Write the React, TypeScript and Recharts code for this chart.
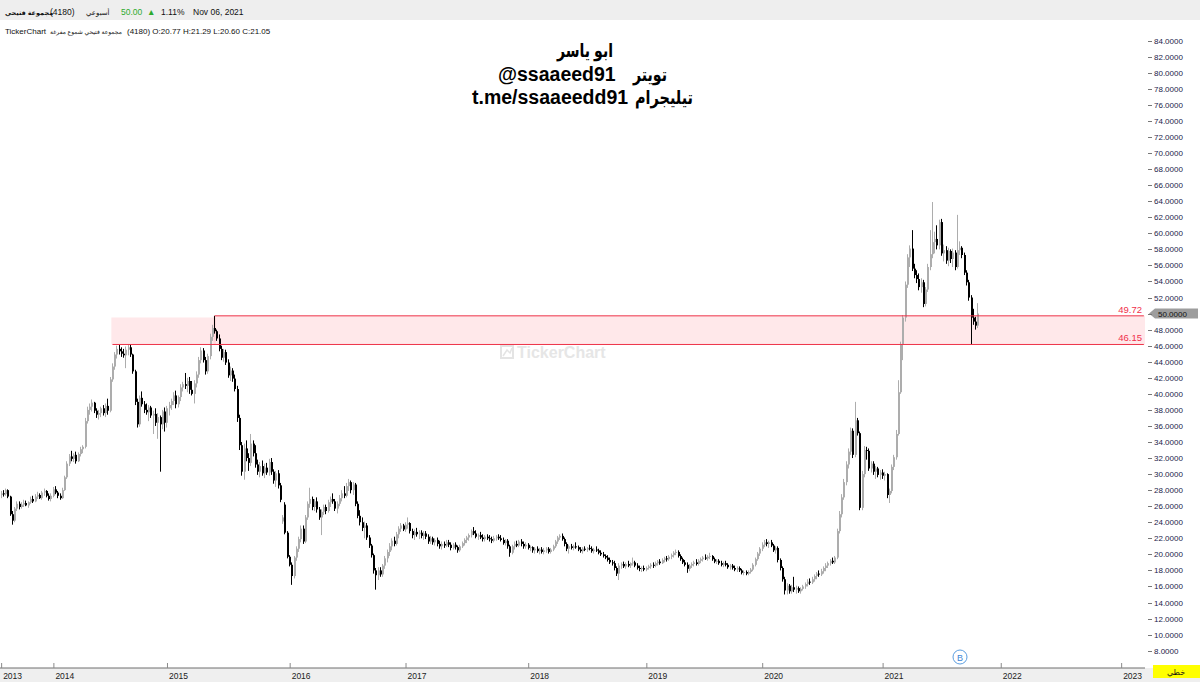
import React from 'react';
import { ComposedChart, Bar, XAxis, YAxis, ReferenceArea, ReferenceLine } from 'recharts';

type C = [number, number, number, number]; // open, high, low, close

const yearLabels = ['2013', '2014', '2015', '2016', '2017', '2018', '2019', '2020', '2021', '2022', '2023'];
const yearStartWeek = [0, 23, 73, 127, 178, 232, 284, 335, 388, 440, 493];
const totalWeeks = 504;
const priceTicks = [8, 10, 12, 14, 16, 18, 20, 22, 24, 26, 28, 30, 32, 34, 36, 38, 40, 42, 44, 46, 48, 50, 52, 54, 56, 58, 60, 62, 64, 66, 68, 70, 72, 74, 76, 78, 80, 82, 84];
const yMin = 5.84;
const yMax = 86.58;
const zoneLow = 46.15;
const zoneHigh = 49.72;
const zoneLeftTop = 49.5;
const zoneLeftStart = 49;
const zoneStart = 94;
const lastClose = 50.0;

const w2013: C[] = [
  [27.4, 27.9, 27.0, 27.6], [27.6, 28.0, 27.2, 27.5], [27.5, 28.2, 27.3, 28.0], [28.0, 28.1, 27.0, 27.2],
  [27.2, 27.3, 24.8, 25.0], [25.0, 25.4, 23.7, 24.2], [24.2, 25.9, 24.0, 25.7], [25.7, 26.6, 25.4, 26.3],
  [26.3, 26.6, 25.6, 25.9], [25.9, 26.5, 25.7, 26.2], [26.2, 26.8, 25.9, 26.4], [26.4, 26.7, 26.0, 26.1],
  [26.1, 26.6, 25.8, 26.5], [26.5, 27.2, 26.3, 26.9], [26.9, 27.3, 26.4, 26.6], [26.6, 27.5, 26.5, 27.2],
  [27.2, 27.8, 26.9, 27.4], [27.4, 27.6, 26.9, 27.0], [27.0, 27.9, 26.8, 27.7], [27.7, 28.2, 27.3, 27.9],
  [27.9, 28.0, 27.1, 27.3], [27.3, 27.6, 26.7, 26.9], [26.9, 27.6, 26.6, 27.3],
];

const w2014: C[] = [
  [27.3, 28.4, 27.1, 28.1], [28.1, 28.5, 27.5, 27.7], [27.7, 27.9, 27.0, 27.3], [27.3, 27.6, 26.8, 27.0],
  [27.0, 28.3, 26.9, 28.0], [28.0, 29.8, 27.9, 29.6], [29.6, 31.6, 29.4, 31.3], [31.3, 32.5, 31.0, 32.2],
  [32.2, 32.9, 31.6, 31.9], [31.9, 32.6, 31.5, 32.4], [32.4, 32.8, 31.3, 31.6], [31.6, 32.7, 31.5, 32.5],
  [32.5, 33.4, 32.2, 33.1], [33.1, 33.6, 32.6, 33.4], [33.4, 37.0, 33.2, 36.6], [36.6, 38.4, 36.3, 38.0],
  [38.0, 38.8, 37.4, 38.4], [38.4, 39.3, 37.8, 38.9], [38.9, 39.0, 37.6, 37.9], [37.9, 38.2, 37.0, 37.4],
  [37.4, 38.0, 36.8, 37.6], [37.6, 38.4, 37.1, 38.2], [38.2, 38.6, 37.3, 37.6], [37.6, 38.8, 37.1, 38.5],
  [38.5, 39.4, 37.4, 37.9], [37.9, 42.1, 37.7, 41.8], [41.8, 43.8, 41.5, 43.4], [43.4, 45.2, 43.0, 44.9],
  [44.9, 46.0, 44.4, 45.6], [45.6, 46.1, 44.9, 45.3], [45.3, 45.8, 44.6, 45.0], [45.0, 45.6, 44.5, 44.8],
  [44.8, 45.9, 43.2, 45.5], [45.5, 46.1, 44.8, 45.8], [45.8, 46.15, 44.6, 44.9], [44.9, 45.0, 42.5, 42.8],
  [42.8, 43.0, 38.6, 39.0], [39.0, 39.4, 35.8, 36.2], [36.2, 39.8, 35.9, 39.5], [39.5, 40.3, 38.4, 38.7],
  [38.7, 39.1, 37.6, 38.0], [38.0, 38.8, 37.4, 37.7], [37.7, 38.6, 36.6, 38.3], [38.3, 38.5, 37.0, 37.3],
  [37.3, 37.9, 35.0, 37.5], [37.5, 38.2, 36.0, 36.4], [36.4, 37.6, 34.4, 37.1], [37.1, 37.3, 30.3, 36.2],
  [36.2, 38.0, 35.6, 37.8], [37.8, 38.3, 35.3, 36.4], [36.4, 38.5, 35.8, 38.2],
];

const w2015: C[] = [
  [38.2, 39.0, 37.3, 38.6], [38.6, 39.4, 38.0, 39.1], [39.1, 40.2, 38.6, 39.8], [39.8, 40.4, 38.2, 38.7],
  [38.7, 39.8, 38.3, 39.6], [39.6, 41.2, 39.1, 40.8], [40.8, 41.5, 40.3, 41.2], [41.2, 42.6, 40.6, 41.0],
  [41.0, 42.0, 40.2, 41.6], [41.6, 42.1, 40.0, 40.5], [40.5, 41.6, 39.8, 40.0], [40.0, 41.7, 38.8, 41.3],
  [41.3, 42.8, 40.8, 42.4], [42.4, 44.6, 42.0, 44.2], [44.2, 45.8, 43.8, 45.4], [45.4, 45.7, 43.9, 44.2],
  [44.2, 44.6, 42.4, 42.8], [42.8, 45.0, 42.5, 44.7], [44.7, 47.5, 44.3, 47.1], [47.1, 48.6, 46.6, 48.2],
  [48.2, 49.72, 47.5, 47.8], [47.8, 48.0, 46.6, 46.9], [46.9, 47.4, 45.3, 45.6], [45.6, 46.0, 44.2, 44.5],
  [44.5, 45.6, 44.0, 45.2], [45.2, 45.5, 43.6, 43.9], [43.9, 44.3, 42.0, 42.3], [42.3, 43.4, 41.6, 42.9],
  [42.9, 43.2, 41.5, 41.9], [41.9, 42.4, 40.3, 40.6], [40.6, 41.0, 36.5, 37.0], [37.0, 37.4, 33.0, 33.6],
  [33.6, 34.0, 29.8, 30.3], [30.3, 33.8, 29.3, 33.2], [33.2, 34.2, 31.6, 32.0], [32.0, 32.6, 30.4, 31.4],
  [31.4, 35.0, 31.0, 33.8], [33.8, 34.2, 32.2, 32.6], [32.6, 33.6, 30.8, 31.2], [31.2, 31.8, 29.9, 30.3],
  [30.3, 31.5, 29.6, 31.0], [31.0, 31.7, 29.8, 30.1], [30.1, 31.3, 29.5, 30.8], [30.8, 31.4, 29.9, 30.2],
  [30.2, 31.9, 29.8, 31.5], [31.5, 32.0, 29.9, 30.3], [30.3, 30.6, 28.8, 29.2], [29.2, 30.4, 28.4, 30.1],
  [30.1, 30.5, 28.2, 28.6], [28.6, 28.9, 26.5, 26.8], [24.1, 24.9, 23.8, 24.6], [26.2, 26.5, 22.5, 22.7],
  [22.7, 22.9, 19.5, 19.7], [19.7, 19.9, 18.5, 18.7],
];

const w2016: C[] = [
  [18.7, 19.0, 16.2, 17.3], [17.3, 19.8, 17.0, 19.6], [19.6, 21.0, 19.2, 20.7], [20.7, 22.2, 20.3, 21.9],
  [21.9, 23.6, 21.5, 23.2], [23.2, 23.6, 21.3, 21.6], [21.6, 24.9, 21.4, 24.6], [24.6, 26.6, 24.3, 26.3],
  [26.3, 28.3, 25.8, 26.9], [26.9, 27.2, 25.5, 25.9], [25.9, 26.9, 25.4, 26.6], [26.6, 27.1, 25.2, 25.6],
  [25.6, 25.9, 24.3, 24.6], [24.6, 25.6, 22.4, 25.3], [25.3, 26.2, 24.9, 25.9], [25.9, 26.2, 25.0, 25.4],
  [25.4, 26.8, 25.2, 26.5], [26.5, 27.2, 25.9, 26.9], [26.9, 27.6, 26.3, 26.6], [26.6, 26.9, 25.4, 25.7],
  [25.7, 26.6, 25.1, 26.3], [26.3, 27.4, 26.0, 27.0], [27.0, 28.0, 26.6, 27.6], [27.6, 28.5, 27.0, 27.3],
  [27.3, 28.9, 27.1, 28.5], [28.5, 29.4, 27.9, 29.0], [29.0, 29.2, 27.6, 28.0], [28.0, 29.0, 27.4, 28.7],
  [28.7, 28.9, 26.0, 26.3], [26.3, 26.6, 24.5, 24.8], [24.8, 25.5, 23.6, 24.0], [24.0, 24.6, 22.9, 23.3],
  [23.3, 24.1, 22.0, 23.6], [23.6, 23.9, 21.8, 22.1], [22.1, 22.4, 20.8, 21.1], [21.1, 21.3, 19.6, 19.9],
  [19.9, 20.1, 17.6, 18.0], [18.0, 18.3, 15.6, 17.4], [17.4, 18.4, 16.8, 18.0], [18.0, 18.4, 17.2, 17.5],
  [17.5, 18.8, 17.2, 18.6], [18.6, 19.8, 18.2, 19.5], [19.5, 20.6, 19.0, 20.3], [20.3, 21.4, 19.8, 21.0],
  [21.0, 22.0, 20.5, 21.7], [21.7, 22.2, 21.0, 21.3], [21.3, 22.8, 21.1, 22.5], [22.5, 23.5, 22.0, 23.2],
  [23.2, 23.9, 22.8, 23.6], [23.6, 23.8, 22.9, 23.1], [23.1, 24.0, 22.8, 23.7],
];

const w2017: C[] = [
  [23.7, 24.6, 23.2, 23.9], [23.9, 24.0, 22.6, 22.9], [22.9, 23.2, 22.0, 22.4], [22.4, 23.1, 21.8, 22.8],
  [22.8, 23.3, 22.2, 22.5], [22.5, 23.0, 21.9, 22.7], [22.7, 23.0, 22.0, 22.3], [22.3, 22.9, 21.8, 22.6],
  [22.6, 22.9, 21.9, 22.2], [22.2, 22.5, 21.3, 21.6], [21.6, 22.3, 21.3, 22.0], [22.0, 22.2, 21.2, 21.5],
  [21.5, 22.0, 21.1, 21.8], [21.8, 22.1, 21.0, 21.3], [21.3, 21.7, 20.7, 21.0], [21.0, 21.6, 20.6, 21.3],
  [21.3, 21.6, 20.8, 21.1], [21.1, 21.8, 20.9, 21.5], [21.5, 21.8, 20.9, 21.2], [21.2, 21.5, 20.5, 20.8],
  [20.8, 21.4, 20.6, 21.2], [21.2, 21.5, 20.6, 20.9], [20.9, 21.1, 20.2, 20.5], [20.5, 21.2, 20.3, 21.0],
  [21.0, 21.6, 20.8, 21.4], [21.4, 22.0, 21.1, 21.8], [21.8, 22.3, 21.4, 22.1], [22.1, 22.6, 21.7, 22.4],
  [22.4, 23.1, 22.1, 22.9], [22.9, 23.4, 22.4, 22.6], [22.6, 23.0, 22.0, 22.2], [22.2, 22.6, 21.8, 22.4],
  [22.4, 22.8, 21.9, 22.1], [22.1, 22.5, 21.6, 21.9], [21.9, 22.4, 21.6, 22.2], [22.2, 22.5, 21.8, 22.0],
  [22.0, 22.4, 21.6, 21.9], [21.9, 22.2, 21.4, 21.7], [21.7, 22.3, 21.5, 22.0], [22.0, 22.4, 21.7, 22.2],
  [22.2, 22.5, 21.8, 22.0], [22.0, 22.4, 21.6, 21.8], [21.8, 22.1, 21.2, 21.4], [21.4, 21.9, 21.1, 21.7],
  [21.7, 21.9, 20.7, 21.0], [21.0, 21.2, 19.7, 20.2], [20.2, 21.2, 20.0, 21.0], [21.0, 21.6, 20.6, 21.3],
  [21.3, 21.7, 20.9, 21.1], [21.1, 21.8, 20.9, 21.6], [21.6, 21.9, 21.0, 21.3], [21.3, 21.6, 20.7, 21.0],
  [21.0, 21.5, 20.7, 21.2],
];

const w2018: C[] = [
  [21.2, 21.4, 20.6, 20.8], [20.8, 21.1, 20.4, 20.9], [20.9, 21.0, 20.2, 20.5], [20.5, 20.9, 20.1, 20.7],
  [20.7, 21.0, 20.2, 20.4], [20.4, 20.8, 20.0, 20.6], [20.6, 20.9, 20.1, 20.3], [20.3, 20.8, 20.0, 20.5],
  [20.5, 20.9, 20.2, 20.7], [20.7, 20.9, 20.1, 20.3], [20.3, 20.8, 20.1, 20.6], [20.6, 21.2, 20.4, 21.0],
  [21.0, 21.8, 20.8, 21.6], [21.6, 22.3, 21.3, 22.1], [22.1, 22.5, 21.8, 22.3], [22.3, 22.6, 21.7, 21.9],
  [21.9, 22.1, 21.0, 21.3], [21.3, 21.5, 20.4, 20.7], [20.7, 21.2, 20.1, 21.0], [21.0, 21.3, 20.6, 20.8],
  [20.8, 21.2, 20.5, 21.0], [21.0, 21.5, 20.7, 20.9], [20.9, 21.1, 20.4, 20.6], [20.6, 20.9, 20.2, 20.4],
  [20.4, 20.9, 20.1, 20.7], [20.7, 21.0, 20.4, 20.6], [20.6, 20.9, 20.3, 20.8], [20.8, 21.2, 20.5, 20.7],
  [20.7, 21.0, 20.2, 20.4], [20.4, 20.8, 20.1, 20.6], [20.6, 21.0, 20.3, 20.5], [20.5, 20.7, 20.0, 20.2],
  [20.2, 20.5, 19.8, 20.0], [20.0, 20.3, 19.6, 19.8], [19.8, 20.0, 19.4, 19.6], [19.6, 19.9, 19.1, 19.3],
  [19.3, 19.6, 18.8, 19.0], [19.0, 19.3, 18.6, 18.9], [18.9, 19.2, 18.0, 18.3], [18.3, 18.5, 17.3, 17.6],
  [17.6, 18.9, 16.8, 18.6], [18.6, 19.0, 18.2, 18.8], [18.8, 19.1, 18.3, 18.5], [18.5, 19.0, 18.2, 18.8],
  [18.8, 19.2, 18.4, 18.6], [18.6, 19.0, 18.3, 18.9], [18.9, 19.6, 18.6, 19.0], [19.0, 19.2, 18.4, 18.6],
  [18.6, 18.9, 18.1, 18.3], [18.3, 18.6, 17.9, 18.2], [18.2, 18.5, 17.8, 18.3], [18.3, 18.6, 17.9, 18.1],
];

const w2019: C[] = [
  [18.1, 18.5, 17.9, 18.3], [18.3, 18.7, 18.1, 18.5], [18.5, 18.9, 18.2, 18.7], [18.7, 19.0, 18.3, 18.6],
  [18.6, 19.1, 18.4, 18.9], [18.9, 19.3, 18.6, 19.1], [19.1, 19.4, 18.7, 18.9], [18.9, 19.5, 18.8, 19.3],
  [19.3, 19.7, 19.0, 19.5], [19.5, 19.8, 19.1, 19.4], [19.4, 19.9, 19.2, 19.7], [19.7, 20.1, 19.4, 19.9],
  [19.9, 20.4, 19.6, 20.2], [20.2, 20.6, 19.9, 20.3], [20.3, 20.5, 19.6, 19.8], [19.8, 20.0, 19.2, 19.4],
  [19.4, 19.6, 18.8, 19.0], [19.0, 19.3, 18.5, 18.7], [18.7, 19.0, 17.7, 18.2], [18.2, 18.8, 17.9, 18.6],
  [18.6, 19.0, 18.3, 18.8], [18.8, 19.2, 18.5, 19.0], [19.0, 19.4, 18.6, 18.8], [18.8, 19.4, 18.6, 19.2],
  [19.2, 19.6, 18.9, 19.4], [19.4, 19.8, 19.1, 19.6], [19.6, 20.0, 19.3, 19.5], [19.5, 19.9, 19.2, 19.7],
  [19.7, 20.2, 19.4, 19.8], [19.8, 19.9, 19.2, 19.4], [19.4, 19.6, 18.9, 19.1], [19.1, 19.4, 18.8, 19.2],
  [19.2, 19.4, 18.7, 18.9], [18.9, 19.2, 18.5, 18.7], [18.7, 19.1, 18.4, 18.9], [18.9, 19.2, 18.5, 18.7],
  [18.7, 18.9, 18.2, 18.4], [18.4, 18.8, 18.1, 18.6], [18.6, 18.8, 18.1, 18.3], [18.3, 18.6, 17.9, 18.1],
  [18.1, 18.5, 17.8, 18.3], [18.3, 18.5, 17.8, 18.0], [18.0, 18.2, 17.5, 17.7], [17.7, 18.0, 17.4, 17.8],
  [17.8, 18.0, 17.4, 17.6], [17.6, 18.0, 17.4, 17.8], [17.8, 18.3, 17.6, 18.1], [18.1, 18.9, 17.9, 18.7],
  [18.7, 19.6, 18.5, 19.4], [19.4, 20.3, 19.2, 20.1], [20.1, 20.9, 19.8, 20.7], [20.7, 21.5, 20.4, 21.2],
];

const w2020: C[] = [
  [21.2, 21.8, 20.9, 21.5], [21.5, 21.9, 21.0, 21.3], [21.3, 21.7, 20.8, 21.5], [21.5, 21.8, 20.9, 21.1],
  [21.1, 21.3, 20.3, 20.5], [20.5, 21.0, 20.1, 20.8], [20.8, 21.0, 19.0, 19.3], [19.3, 19.5, 18.0, 18.3],
  [18.3, 18.5, 16.6, 16.9], [16.9, 17.2, 15.0, 15.5], [15.5, 16.4, 15.0, 16.1], [16.1, 16.3, 15.1, 15.4],
  [15.4, 16.2, 15.1, 15.9], [15.9, 17.2, 15.3, 15.6], [15.6, 16.1, 15.1, 15.8], [15.8, 16.0, 15.2, 15.4],
  [15.4, 15.9, 15.1, 15.7], [15.7, 16.2, 15.5, 16.0], [16.0, 16.5, 15.7, 16.3], [16.3, 16.9, 16.0, 16.6],
  [16.6, 17.0, 16.2, 16.5], [16.5, 17.2, 16.3, 16.9], [16.9, 17.5, 16.6, 17.3], [17.3, 17.8, 16.9, 17.6],
  [17.6, 18.0, 17.2, 17.5], [17.5, 18.2, 17.3, 17.9], [17.9, 18.5, 17.6, 18.3], [18.3, 18.9, 17.9, 18.6],
  [18.6, 19.1, 18.3, 18.9], [18.9, 19.4, 18.6, 19.2], [19.2, 19.6, 18.8, 19.0], [19.0, 19.8, 18.8, 19.6],
  [19.6, 23.2, 19.4, 22.9], [22.9, 25.4, 22.6, 25.0], [25.0, 27.5, 24.6, 27.1], [27.1, 29.4, 26.8, 29.0],
  [29.0, 31.6, 28.6, 31.2], [31.2, 33.2, 30.7, 32.8], [32.8, 35.8, 32.4, 35.4], [35.4, 35.7, 32.0, 32.4],
  [32.4, 39.0, 32.1, 36.7], [36.7, 37.0, 34.8, 35.1], [35.1, 35.3, 25.5, 25.8], [25.8, 30.4, 25.5, 30.0],
  [30.0, 33.5, 29.6, 33.0], [33.0, 33.4, 31.8, 32.9], [32.9, 33.2, 30.4, 30.7], [30.7, 31.6, 30.2, 31.3],
  [31.3, 31.6, 29.9, 30.3], [30.3, 31.0, 29.4, 30.7], [30.7, 30.9, 29.6, 29.9], [29.9, 30.5, 29.3, 30.2],
];

const w2021: C[] = [
  [30.2, 30.6, 29.4, 29.8], [29.8, 30.3, 29.2, 30.0], [30.0, 30.1, 27.0, 27.4], [27.4, 28.2, 26.4, 27.9],
  [27.9, 31.2, 27.6, 30.9], [30.9, 32.4, 30.5, 32.1], [32.1, 35.5, 31.8, 35.0], [35.0, 41.7, 34.8, 40.2],
  [40.2, 46.5, 40.0, 46.2], [46.2, 49.8, 44.2, 49.5], [49.5, 54.0, 49.0, 53.6], [53.6, 57.4, 53.2, 57.0],
  [57.0, 58.5, 55.8, 58.1], [58.1, 60.4, 55.3, 55.6], [55.6, 56.2, 54.4, 54.8], [54.8, 55.4, 53.8, 54.3],
  [54.3, 55.0, 52.9, 53.3], [53.3, 54.4, 52.6, 53.9], [53.9, 54.2, 50.8, 51.2], [51.2, 53.3, 50.9, 53.0],
  [53.0, 56.2, 52.7, 55.8], [55.8, 60.4, 55.4, 57.4], [57.4, 63.9, 56.9, 58.9], [58.9, 60.2, 57.5, 59.3],
  [59.3, 61.0, 58.0, 58.5], [58.5, 61.7, 58.0, 61.4], [61.4, 61.8, 57.2, 57.5], [57.5, 58.6, 56.5, 57.9],
  [57.9, 58.4, 56.2, 56.6], [56.6, 58.2, 55.9, 57.8], [57.8, 58.0, 56.3, 56.8], [56.8, 58.1, 55.8, 57.6],
  [57.6, 57.9, 55.4, 55.8], [55.8, 62.3, 55.6, 57.9], [57.9, 59.0, 57.3, 58.2], [58.2, 58.4, 56.9, 57.3],
  [57.3, 57.6, 54.8, 55.1], [55.1, 55.4, 53.5, 53.9], [53.9, 54.2, 51.6, 52.0], [52.0, 52.3, 46.1, 49.5],
  [49.5, 50.6, 48.6, 49.0], [49.0, 49.6, 48.0, 48.5], [48.5, 51.3, 48.2, 50.0],
];

const candles: C[] = [...w2013, ...w2014, ...w2015, ...w2016, ...w2017, ...w2018, ...w2019, ...w2020, ...w2021];

const rows = Array.from({ length: totalWeeks }, (_, i) => {
  const c = candles[i];
  if (!c) return { i, o: null, h: null, l: null, c: null, range: null };
  return { i, o: c[0], h: c[1], l: c[2], c: c[3], range: [c[2], c[1]] };
});

const FONT = '"Liberation Sans", "DejaVu Sans", Arial, sans-serif';

const Candle = (props: any) => {
  const { x, y, width, height, payload } = props;
  if (!payload || payload.h == null || x == null || y == null) return null;
  const { o, h, l, c } = payload;
  const top = Math.min(y, y + height);
  const hgt = Math.abs(height);
  const span = h - l || 1;
  const py = (v: number) => top + ((h - v) / span) * hgt;
  const up = c >= o;
  const color = up ? '#adadad' : '#000000';
  const cx = Math.floor(x + width / 2);
  const bt = py(Math.max(o, c));
  const bb = py(Math.min(o, c));
  return (
    <g>
      <line x1={cx + 0.5} x2={cx + 0.5} y1={top} y2={top + hgt} stroke={color} strokeWidth={1} />
      <rect x={cx} y={bt} width={2} height={Math.max(1, bb - bt)} fill={color} />
    </g>
  );
};

const YearTick = (props: any) => {
  const { x, payload } = props;
  const idx = yearStartWeek.indexOf(payload.value);
  if (idx < 0) return null;
  return (
    <g>
      <line x1={x + 0.5} x2={x + 0.5} y1={663} y2={668} stroke="#8a8a8a" />
      <text x={x + 2} y={679} fontSize={8.5} fontFamily={FONT} fill="#222">{yearLabels[idx]}</text>
    </g>
  );
};

const PriceTick = (props: any) => {
  const { y, payload } = props;
  const v = Number(payload.value);
  return (
    <g>
      <line x1={1148} x2={1152} y1={Math.round(y) + 0.5} y2={Math.round(y) + 0.5} stroke="#777" />
      {v !== lastClose && (
        <text x={1154} y={y + 3} fontSize={8} fontFamily={FONT} fill="#23234a">{v.toFixed(4)}</text>
      )}
    </g>
  );
};

const RedTag = (props: any) => {
  const { viewBox, text } = props;
  if (!viewBox) return null;
  return (
    <text x={viewBox.x + viewBox.width - 3} y={viewBox.y - 3} textAnchor="end" fontSize={9.5} fontFamily={FONT} fill="#f0304a">{text}</text>
  );
};

const PriceTag = (props: any) => {
  const { viewBox } = props;
  if (!viewBox) return null;
  const y = viewBox.y;
  const x0 = viewBox.x + viewBox.width + 4;
  const pts = `${x0},${y} ${x0 + 6},${y - 5} ${x0 + 49},${y - 5} ${x0 + 49},${y + 5} ${x0 + 6},${y + 5}`;
  return (
    <g>
      <polygon points={pts} fill="#9d9d9d" />
      <text x={x0 + 9} y={y + 3} fontSize={8} fontFamily={FONT} fill="#111">{lastClose.toFixed(4)}</text>
    </g>
  );
};

export default function App() {
  const lastCat = totalWeeks - 1;
  return (
    <div style={{ position: 'absolute', left: 0, top: 0, width: 1200, height: 682, background: '#fff', overflow: 'hidden', fontFamily: FONT }}>
      <div style={{ position: 'absolute', left: 0, top: 668, width: 1200, height: 14, background: '#efefef' }} />
      <svg width={1200} height={682} style={{ position: 'absolute', left: 0, top: 0 }}>
        <rect x={501} y={346} width={12} height={12} fill="none" stroke="#e4e4e4" strokeWidth={2} />
        <path d="M503 356 L507 350 L510 353 L512 348" fill="none" stroke="#e4e4e4" strokeWidth={1.5} />
        <text x={517} y={358} fontSize={16} fontWeight="bold" fontFamily={FONT} fill="#e6e6e6">TickerChart</text>
      </svg>
      <div style={{ position: 'absolute', left: 0, top: 0 }}>
        <ComposedChart width={1200} height={682} data={rows} margin={{ top: 20, right: 0, bottom: 0, left: 0 }} barCategoryGap={0} barGap={0}>
          <XAxis dataKey="i" type="category" ticks={yearStartWeek} interval={0} tick={<YearTick />} tickLine={false} axisLine={{ stroke: '#6f6f6f' }} height={14} />
          <YAxis orientation="right" type="number" domain={[yMin, yMax]} ticks={priceTicks} interval={0} width={55} tick={<PriceTick />} tickLine={false} axisLine={false} allowDataOverflow />
          <ReferenceArea x1={zoneLeftStart} x2={zoneStart} y1={zoneLow} y2={zoneLeftTop} fill="#ff2030" fillOpacity={0.1} stroke="none" ifOverflow="visible" />
          <ReferenceArea x1={zoneStart} x2={lastCat} y1={zoneLow} y2={zoneHigh} fill="#ff2030" fillOpacity={0.1} stroke="none" ifOverflow="visible" />
          <ReferenceLine segment={[{ x: zoneStart, y: zoneHigh }, { x: lastCat, y: zoneHigh }]} stroke="#ee3348" strokeWidth={1} ifOverflow="visible" />
          <ReferenceLine segment={[{ x: zoneLeftStart, y: zoneLow }, { x: lastCat, y: zoneLow }]} stroke="#ee3348" strokeWidth={1} ifOverflow="visible" />
          <ReferenceLine y={zoneHigh} stroke="none" label={<RedTag text={zoneHigh.toFixed(2)} />} />
          <ReferenceLine y={zoneLow} stroke="none" label={<RedTag text={zoneLow.toFixed(2)} />} />
          <Bar dataKey="range" isAnimationActive={false} shape={(p: any) => <Candle {...p} />} />
          <ReferenceLine y={lastClose} stroke="none" label={<PriceTag />} />
        </ComposedChart>
      </div>
      <svg width={1200} height={682} style={{ position: 'absolute', left: 0, top: 0, pointerEvents: 'none' }}>
        <rect x={0} y={0} width={1200} height={20} fill="#eeeeee" />
        <text x={5} y={15} fontSize={6.5} fontWeight="bold" fontFamily={FONT} fill="#111">مجموعة فتيحي</text>
        <text x={50} y={15} fontSize={8.5} fontFamily={FONT} fill="#111">(4180)</text>
        <text x={86} y={15} fontSize={7} fontFamily={FONT} fill="#111">أسبوعي</text>
        <text x={121} y={15} fontSize={8.5} fontFamily={FONT} fill="#2eaa2e">50.00</text>
        <text x={147} y={15} fontSize={8.5} fontFamily={FONT} fill="#2eaa2e">▲</text>
        <text x={161} y={15} fontSize={8.5} fontFamily={FONT} fill="#111">1.11%</text>
        <text x={193} y={15} fontSize={8.5} fontFamily={FONT} fill="#111">Nov 06, 2021</text>
        <text x={5} y={34} fontSize={8} fontFamily={FONT} fill="#111">TickerChart</text>
        <text x={50} y={34} fontSize={6} fontFamily={FONT} fill="#111">مجموعة فتيحي شموع مفرغة</text>
        <text x={127} y={34} fontSize={8} fontFamily={FONT} fill="#111">(4180) O:20.77  H:21.29  L:20.60  C:21.05</text>
        <text x={557} y={57} fontSize={19} fontWeight="bold" fontFamily={FONT} fill="#000" textLength={56} lengthAdjust="spacingAndGlyphs">ابو ياسر</text>
        <text x={498} y={81} fontSize={19.5} fontWeight="bold" fontFamily={FONT} fill="#000">@ssaaeed91</text>
        <text x={633} y={81} fontSize={19} fontWeight="bold" fontFamily={FONT} fill="#000" textLength={34} lengthAdjust="spacingAndGlyphs">تويتر</text>
        <text x={472} y={104} fontSize={19.5} fontWeight="bold" fontFamily={FONT} fill="#000">t.me/ssaaeedd91</text>
        <text x={635} y={104} fontSize={19} fontWeight="bold" fontFamily={FONT} fill="#000" textLength={58} lengthAdjust="spacingAndGlyphs">تيليجرام</text>
        <circle cx={960} cy={657} r={7} fill="#fff" stroke="#5c9ee0" strokeWidth={1} />
        <text x={960} y={660.5} textAnchor="middle" fontSize={9} fontFamily={FONT} fill="#3d86d6">B</text>
        <rect x={1153} y={665} width={47} height={13} fill="#ffff00" />
        <text x={1176} y={675} textAnchor="middle" fontSize={8} fontFamily={FONT} fill="#111">خطي</text>
      </svg>
    </div>
  );
}
